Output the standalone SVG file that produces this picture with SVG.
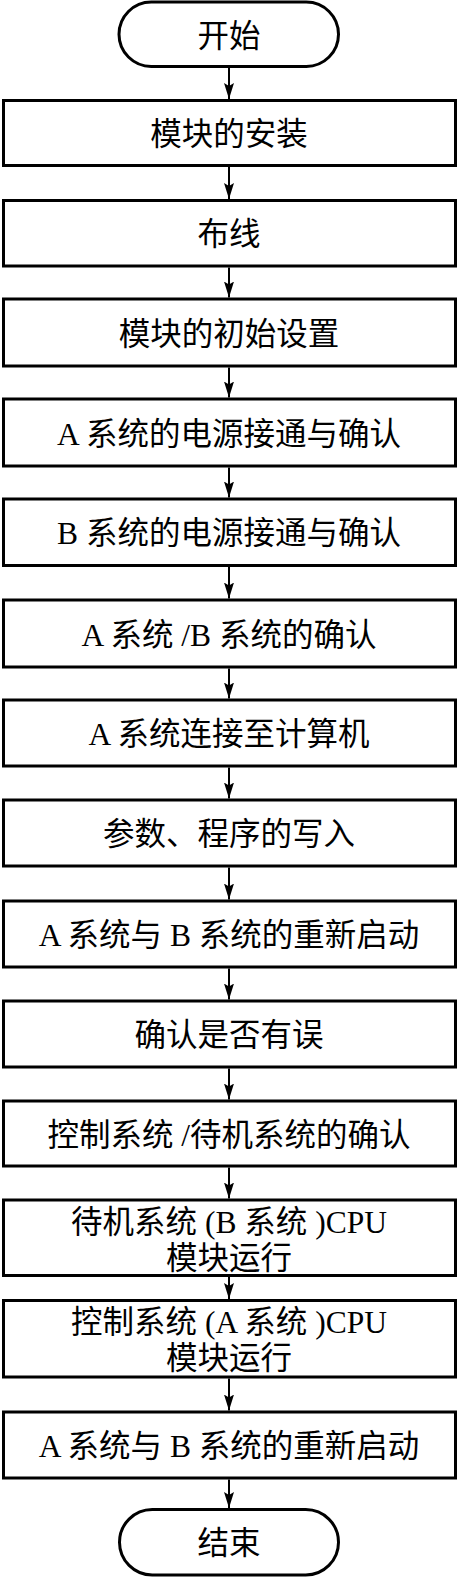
<svg xmlns="http://www.w3.org/2000/svg" width="458" height="1577" viewBox="0 0 458 1577">
<style>
.box{fill:#fff;stroke:#000;stroke-width:3}
.t{font-family:"Liberation Serif","Noto Sans CJK SC",serif;font-size:31.5px;fill:#000;text-anchor:middle}
.c{stroke:#000;stroke-width:2;fill:none;marker-end:url(#ah)}
</style>
<defs>
<marker id="ah" viewBox="0 0 16 10" markerWidth="16" markerHeight="10" refX="16" refY="5" orient="auto" markerUnits="userSpaceOnUse">
<path d="M0,0 L16,5 L0,10 L3,5 Z" fill="#000"/>
</marker>
</defs>
<rect width="458" height="1577" fill="#fff"/>
<g id="connectors">
<line class="c" x1="229" y1="68" x2="229" y2="99"/>
<line class="c" x1="229" y1="167" x2="229" y2="199"/>
<line class="c" x1="229" y1="267.5" x2="229" y2="297.5"/>
<line class="c" x1="229" y1="367.5" x2="229" y2="397.5"/>
<line class="c" x1="229" y1="467.5" x2="229" y2="497.5"/>
<line class="c" x1="229" y1="567" x2="229" y2="598.5"/>
<line class="c" x1="229" y1="668.5" x2="229" y2="698.5"/>
<line class="c" x1="229" y1="767.5" x2="229" y2="798.5"/>
<line class="c" x1="229" y1="867.5" x2="229" y2="899.5"/>
<line class="c" x1="229" y1="968.5" x2="229" y2="999.5"/>
<line class="c" x1="229" y1="1068.5" x2="229" y2="1099.5"/>
<line class="c" x1="229" y1="1167.5" x2="229" y2="1198.5"/>
<line class="c" x1="229" y1="1277" x2="229" y2="1299"/>
<line class="c" x1="229" y1="1378.5" x2="229" y2="1410.5"/>
<line class="c" x1="229" y1="1479.5" x2="229" y2="1508"/>
</g>
<g id="n1"><rect class="box" x="119" y="2" width="219.5" height="64.5" rx="32.25"/><text class="t" x="229" y="46.5">开始</text></g>
<g id="n2"><rect class="box" x="3.5" y="100.5" width="452" height="65"/><text class="t" x="229" y="145">模块的安装</text></g>
<g id="n3"><rect class="box" x="3.5" y="200.5" width="452" height="65.5"/><text class="t" x="229" y="245">布线</text></g>
<g id="n4"><rect class="box" x="3.5" y="299" width="452" height="67"/><text class="t" x="229" y="344.5">模块的初始设置</text></g>
<g id="n5"><rect class="box" x="3.5" y="399" width="452" height="67"/><text class="t" x="229" y="444.5">A 系统的电源接通与确认</text></g>
<g id="n6"><rect class="box" x="3.5" y="499" width="452" height="66.5"/><text class="t" x="229" y="544">B 系统的电源接通与确认</text></g>
<g id="n7"><rect class="box" x="3.5" y="600" width="452" height="67"/><text class="t" x="229" y="645.5">A 系统 /B 系统的确认</text></g>
<g id="n8"><rect class="box" x="3.5" y="700" width="452" height="66"/><text class="t" x="229" y="745">A 系统连接至计算机</text></g>
<g id="n9"><rect class="box" x="3.5" y="800" width="452" height="66"/><text class="t" x="229" y="845">参数、程序的写入</text></g>
<g id="n10"><rect class="box" x="3.5" y="901" width="452" height="66"/><text class="t" x="229" y="946">A 系统与 B 系统的重新启动</text></g>
<g id="n11"><rect class="box" x="3.5" y="1001" width="452" height="66"/><text class="t" x="229" y="1046">确认是否有误</text></g>
<g id="n12"><rect class="box" x="3.5" y="1101" width="452" height="65"/><text class="t" x="229" y="1145.5">控制系统 /待机系统的确认</text></g>
<g id="n13"><rect class="box" x="3.5" y="1200" width="452" height="75.5"/><text class="t" x="229" y="1233">待机系统 (B 系统 )CPU</text><text class="t" x="229" y="1269">模块运行</text></g>
<g id="n14"><rect class="box" x="3.5" y="1300.5" width="452" height="76.5"/><text class="t" x="229" y="1333">控制系统 (A 系统 )CPU</text><text class="t" x="229" y="1368.5">模块运行</text></g>
<g id="n15"><rect class="box" x="3.5" y="1412" width="452" height="66"/><text class="t" x="229" y="1457">A 系统与 B 系统的重新启动</text></g>
<g id="n16"><rect class="box" x="119.5" y="1509.5" width="219" height="65.5" rx="32.75"/><text class="t" x="229" y="1554">结束</text></g>
</svg>
